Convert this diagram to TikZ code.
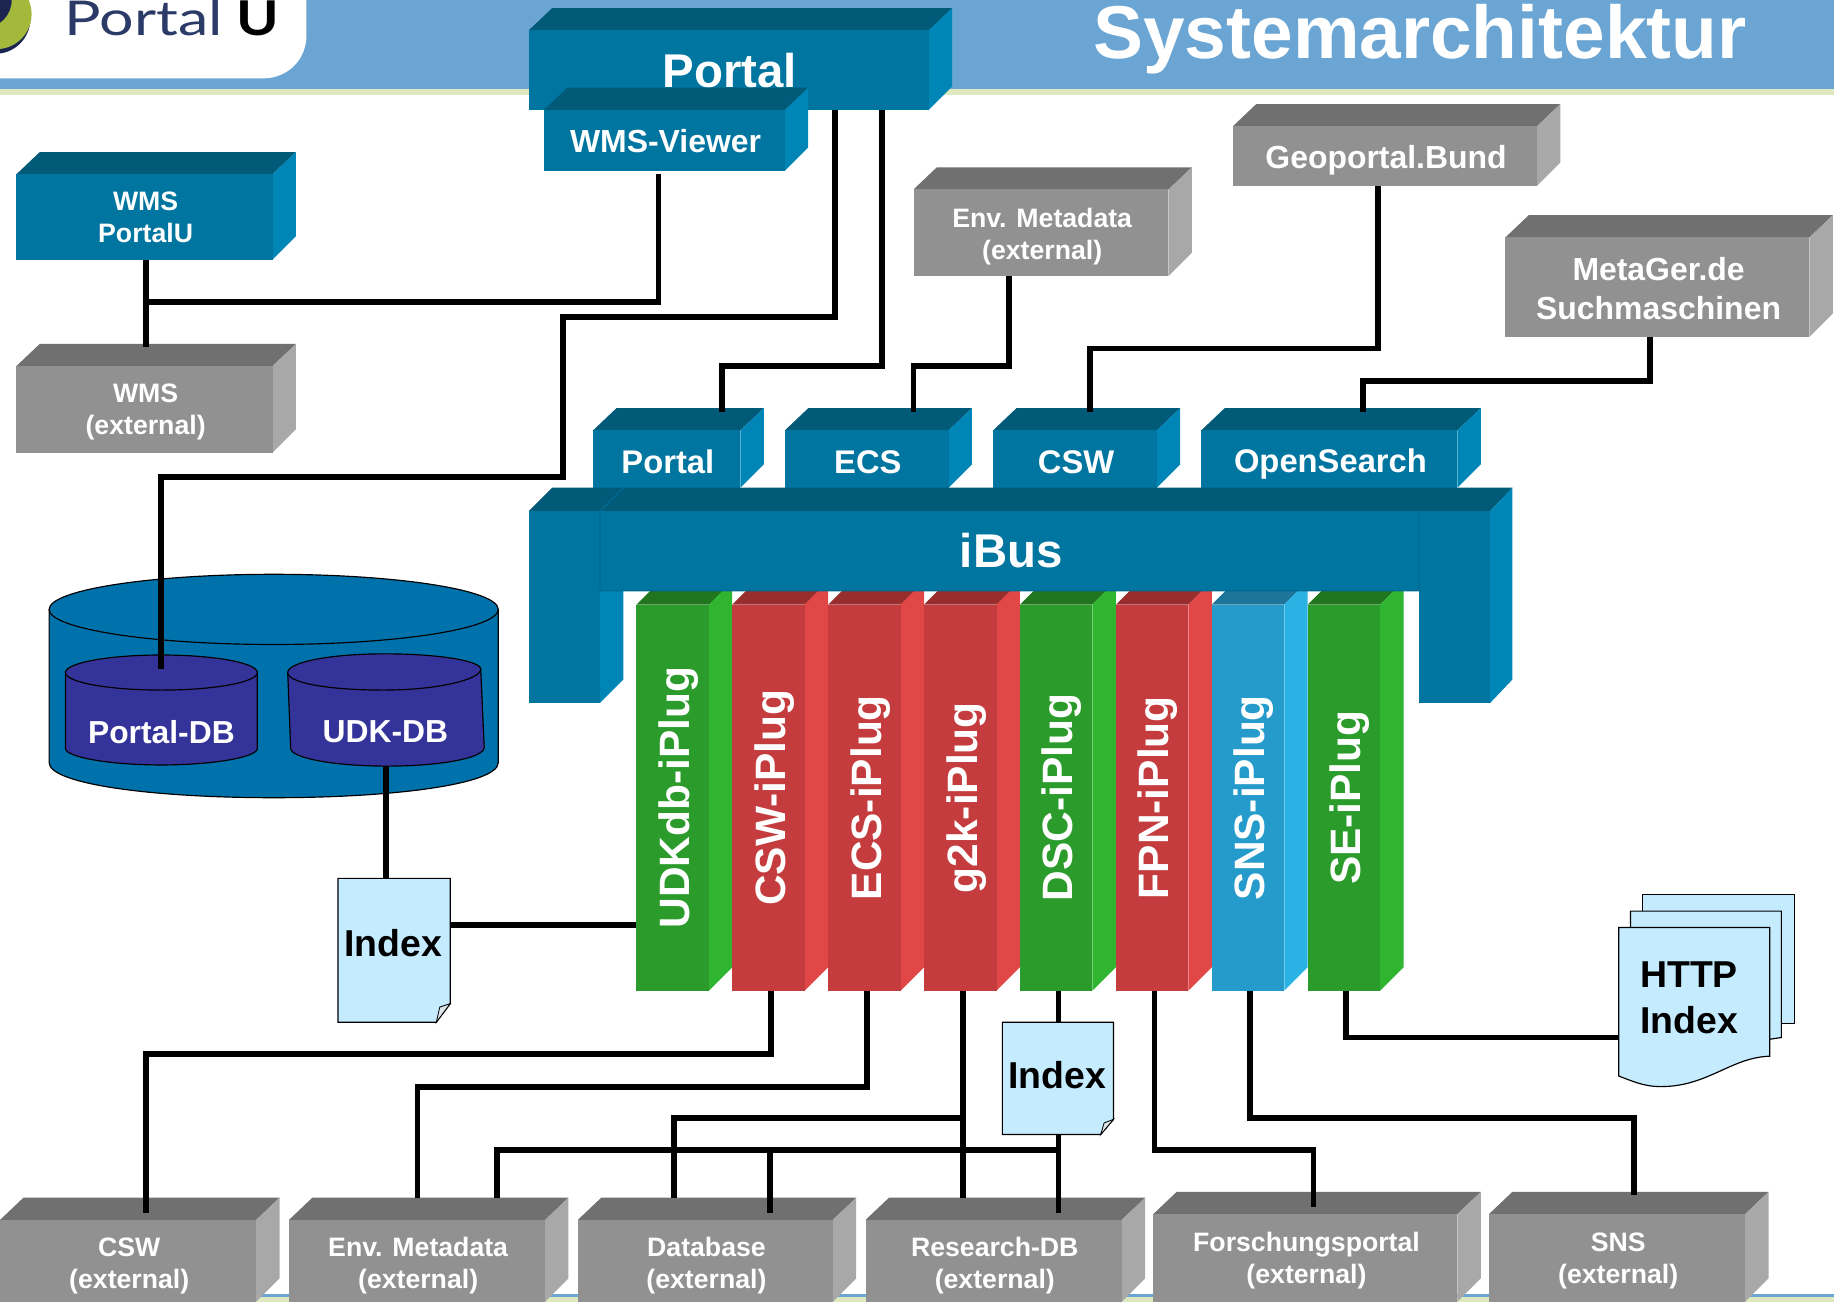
\documentclass[tikz,border=0pt]{standalone}
\usepackage{fontspec}
\setmainfont{Liberation Sans}
\newfontfamily\logofont{Lato}
\usetikzlibrary{calc}
\definecolor{bandblue}{HTML}{6AA5D3}
\definecolor{bandgreen}{HTML}{DDE8BF}
\definecolor{tealF}{HTML}{00759F}
\definecolor{tealT}{HTML}{005A78}
\definecolor{tealS}{HTML}{0086B6}
\definecolor{tealE}{HTML}{006C95}
\definecolor{greyF}{HTML}{919191}
\definecolor{greyT}{HTML}{707070}
\definecolor{greyS}{HTML}{A8A8A8}
\definecolor{greenF}{HTML}{2B9C2B}
\definecolor{greenT}{HTML}{21751F}
\definecolor{greenS}{HTML}{2FB52F}
\definecolor{redF}{HTML}{C43C3E}
\definecolor{redT}{HTML}{982D2E}
\definecolor{redS}{HTML}{E24747}
\definecolor{blueF}{HTML}{259BCB}
\definecolor{blueT}{HTML}{1D759A}
\definecolor{blueS}{HTML}{2BB2E5}
\definecolor{cylblue}{HTML}{0072AB}
\definecolor{dbblue}{HTML}{333399}
\definecolor{docblue}{HTML}{C5EBFF}
\definecolor{foldblue}{HTML}{DCE6EA}
\definecolor{logotext}{HTML}{2B3A67}
\definecolor{logogreen}{HTML}{A4B83C}
\definecolor{logodark}{HTML}{1C2450}
\tikzset{
  wire/.style={line width=5pt,black,line join=miter,line cap=butt},
  facebox/.style={rectangle,inner sep=0pt,outer sep=0pt},
  facetext/.style={inner sep=0pt,outer sep=0pt,text=white,align=center},
  docshape/.style={fill=docblue,draw=black,line width=1pt},
  cyl/.style={draw=black,line width=1pt,line join=round},
  doctext/.style={rectangle,inner sep=0pt,outer sep=0pt,text=black,align=center},
  dbtext/.style={inner sep=0pt,outer sep=0pt,text=white,font=\bfseries\fontsize{27.2}{32}\selectfont},
}
% name, x1, y1, x2, y2, palette, font, text, label offset
\newcommand{\cuboid}[9]{%
  \fill[#6T] (#2,#3) -- ({#2+20},{#3-19}) -- ({#4+20},{#3-19}) -- (#4,#3) -- cycle;
  \fill[#6S] (#4,#3) -- ({#4+20},{#3-19}) -- ({#4+20},{#5-20}) -- (#4,#5) -- cycle;
  \node[facebox,fill=#6F,minimum width={(#4-#2)*1pt},minimum height={(#5-#3)*1pt}] (#1) at ({(#2+#4)/2},{(#3+#5)/2}) {};
  \node[facetext,font=\bfseries#7] (#1-label) at ({(#2+#4)/2+1},{(#3+#5)/2+#9}) {#8};
  \coordinate (#1-back) at (#2,{#3-19});
  \coordinate (#1-top) at (#2,{#3-16});
  \coordinate (#1-mid) at (#2,{#3-6});
}
% name, left x, palette, text
\newcommand{\iplug}[4]{%
  \fill[#3T] (#2,517) -- ({#2+20},497) -- ({#2+82},497) -- ({#2+62},517) -- cycle;
  \fill[#3S] ({#2+62},517) -- ({#2+82},497) -- ({#2+82},827) -- ({#2+62},847) -- cycle;
  \node[facebox,fill=#3F,minimum width=62pt,minimum height=330pt] (#1) at ({#2+31},682) {};
  \node[text=white,font=\bfseries\fontsize{36.3}{42}\selectfont,rotate=90,inner sep=0pt] (#1-label) at ({#2+36},682) {#4};
}
\newcommand{\fsHuge}{\fontsize{40.5}{46}\selectfont}
\newcommand{\fsBig}{\fontsize{28}{33}\selectfont}
\newcommand{\fsMed}{\fontsize{27.3}{33}\selectfont}
\newcommand{\fsSm}{\fontsize{22.8}{27.5}\selectfont}
\begin{document}
\begin{tikzpicture}[x=1pt,y=-1pt]
\useasboundingbox (0,0) rectangle (1568,1113);
\clip (0,0) rectangle (1568,1113);
% header
\fill[bandblue] (0,0) rectangle (1568,76);
\fill[bandgreen] (0,76) rectangle (1568,81);
\fill[white] (0,0) -- (262,0) -- (262,30) .. controls (262,52) and (245,67) .. (225,67) -- (0,67) -- cycle;
\fill[bandblue] (0,1106) rectangle (1568,1109);
\fill[bandgreen] (0,1109) rectangle (1568,1113);
% logo
\fill[logodark] (-4,16) circle (30);
\fill[logogreen] (-3,12) circle (30);
\fill[logodark] (-14,0) circle (24);
\node[inner sep=0pt,anchor=base west,text=logotext,xscale=1.27,font=\logofont\fontsize{41}{48}\selectfont] (logoa) at (55,30) {Portal};
\node[inner sep=0pt,anchor=base west,text=black,xscale=1.2,font=\logofont\bfseries\fontsize{41}{48}\selectfont] (logob) at (202,30) {U};
% title
\node[inner sep=0pt,anchor=base,text=white,font=\bfseries\fontsize{64}{70}\selectfont] (title) at (1214,50) {Systemarchitektur};
% boxes top
\cuboid{portal}{452}{26}{794}{94}{teal}{\fsHuge}{Portal}{0}
\cuboid{viewer}{465}{94}{671}{146}{teal}{\fsMed}{WMS-Viewer}{0.5}
\cuboid{wmsp}{14}{149}{233}{222}{teal}{\fsSm}{WMS\\PortalU}{0.5}
\cuboid{wmsx}{14}{313}{233}{387}{grey}{\fsSm}{WMS\\(external)}{2.5}
\cuboid{envtop}{781}{162}{999}{236}{grey}{\fsSm}{Env. Metadata\\(external)}{3}
\cuboid{geo}{1054}{108}{1314}{159}{grey}{\fsMed}{Geoportal.Bund}{3.5}
\cuboid{meta}{1287}{203}{1547}{288}{grey}{\fsMed}{MetaGer.de\\Suchmaschinen}{1}
% iBus interfaces
\cuboid{sportal}{507}{368}{633}{417}{teal}{\fsBig}{Portal}{2.5}
\cuboid{secs}{671}{368}{811}{417}{teal}{\fsBig}{ECS}{2.5}
\cuboid{scsw}{849}{368}{989}{417}{teal}{\fsBig}{CSW}{2.5}
\cuboid{sopen}{1027}{368}{1246}{417}{teal}{\fsBig}{OpenSearch}{4.5}
% iPlugs
\iplug{pudk}{544}{green}{UDKdb-iPlug}
\iplug{pcsw}{626}{red}{CSW-iPlug}
\iplug{pecs}{708}{red}{ECS-iPlug}
\iplug{pgk}{790}{red}{g2k-iPlug}
\iplug{pdsc}{872}{green}{DSC-iPlug}
\iplug{pfpn}{954}{red}{FPN-iPlug}
\iplug{psns}{1036}{blue}{SNS-iPlug}
\iplug{pse}{1118}{green}{SE-iPlug}
% iBus
\fill[tealT] (452,437) -- (472,417) -- (1293,417) -- (1274,437) -- cycle;
\fill[tealS] (513,505) -- (533,505) -- (533,581) -- (513,601) -- cycle;
\fill[tealS] (1274,437) -- (1293,417) -- (1293,581) -- (1274,601) -- cycle;
\fill[tealF] (452,437) rectangle (513,601);
\fill[tealF] (1213,437) rectangle (1274,601);
\node[facebox,fill=tealF,minimum width=700pt,minimum height=68pt] (ibus) at (863,471) {};
\node[facetext,font=\bfseries\fontsize{40.5}{46}\selectfont] (ibuslabel) at (864.5,471) {iBus};
\draw[tealE,line width=1pt] (533,417) -- (513,437) -- (513,505) -- (1213,505) -- (1213,437);
% large database
\path[cyl,fill=cylblue] (42,521) -- (42,652) .. controls (42,670) and (128,682) .. (234,682) .. controls (340,682) and (426,670) .. (426,652) -- (426,521) -- cycle;
\draw[cyl,fill=cylblue] (234,521) ellipse (192 and 30);
% Portal-DB
\path[cyl,fill=dbblue] (56,574) -- (56,640) .. controls (56,647) and (92,654) .. (138,654) .. controls (184,654) and (220,647) .. (220,640) -- (220,574) -- cycle;
\draw[cyl,fill=dbblue] (138,575) ellipse (82 and 15);
\node[dbtext] (portaldb) at (138,626) {Portal-DB};
\coordinate (portaldb-in) at (138,572);
% UDK-DB
\path[cyl,fill=dbblue] (246,575) -- (248.5,640) .. controls (249,648) and (285,655) .. (331,655) .. controls (377,655) and (414,648) .. (414,639) -- (411,572) -- cycle;
\draw[cyl,fill=dbblue] (246,575) .. controls (246,566) and (283,559) .. (329,559) .. controls (375,559) and (411,565) .. (411,572) .. controls (411,581) and (374,590) .. (328,590) .. controls (282,590) and (246,584) .. (246,575) -- cycle;
\node[dbtext] (udkdb) at (329.5,626) {UDK-DB};
\coordinate (udkdb-out) at (330,655);
% documents
\path[docshape] (289,751) -- (385,751) -- (385,858) -- (373,874) -- (289,874) -- cycle;
\path[fill=foldblue,draw=black,line width=.7pt] (385,858) -- (373,874) -- (376,861) -- cycle;
\node[doctext,minimum width=96pt,minimum height=123pt] (index) at (337,812.5) {};
\node[doctext,font=\bfseries\fontsize{32}{38}\selectfont] (indexlabel) at (336,806) {Index};
\path[docshape] (857,874) -- (952,874) -- (952,957) -- (941,970) -- (857,970) -- cycle;
\path[fill=foldblue,draw=black,line width=.7pt] (952,957) -- (941,970) -- (944,960) -- cycle;
\node[doctext,minimum width=95pt,minimum height=96pt] (indexb) at (904.5,922) {};
\node[doctext,font=\bfseries\fontsize{32}{38}\selectfont] (indexblabel) at (904,919) {Index};
\path[docshape] (1404,765) -- (1534,765) -- (1534,875) -- (1520,875) -- (1404,875) -- cycle;
\path[docshape] (1394,779) -- (1523,779) -- (1523,887) -- (1510,889) -- (1394,889) -- cycle;
\path[docshape] (1384,793) -- (1513,793) -- (1513,903) .. controls (1480,904) and (1460,929) .. (1420,929) .. controls (1405,929) and (1395,924) .. (1384,920) -- cycle;
\node[doctext,minimum width=129pt,minimum height=127pt] (http) at (1448.5,856.5) {};
\node[doctext,font=\bfseries\fontsize{32}{39}\selectfont] (httplabel) at (1444,853) {HTTP\\Index};
% bottom boxes
\cuboid{xcsw}{0}{1043}{219}{1113}{grey}{\fsSm}{CSW\\(external)}{4}
\cuboid{xenv}{247}{1043}{466}{1113}{grey}{\fsSm}{Env. Metadata\\(external)}{4}
\cuboid{xdb}{494}{1043}{712}{1113}{grey}{\fsSm}{Database\\(external)}{4}
\cuboid{xres}{740}{1043}{959}{1113}{grey}{\fsSm}{Research-DB\\(external)}{4}
\cuboid{xfor}{986}{1038}{1246}{1113}{grey}{\fsSm}{Forschungsportal\\(external)}{2.5}
\cuboid{xsns}{1273}{1038}{1492}{1113}{grey}{\fsSm}{SNS\\(external)}{2.5}
% connectors
\coordinate (viewer-gap) at (563,149);
\draw[wire] (viewer-gap) -- (563,258) -- (125,258);
\draw[wire] (125,0 |- wmsp.south) -- (125,0 |- wmsx-top);
\draw[wire] (714,0 |- portal.south) -- (714,271) -- (481,271) -- (481,408) -- (138,408) -- (portaldb-in);
\draw[wire] (754,0 |- portal.south) -- (754,313) -- (617,313) -- (617,0 |- sportal-top);
\draw[wire] (863,0 |- envtop.south) -- (863,313) -- (781,313) -- (781,0 |- secs-top);
\draw[wire] (1178,0 |- geo.south) -- (1178,298) -- (932,298) -- (932,0 |- scsw-top);
\draw[wire] (1411,0 |- meta.south) -- (1411,326) -- (1165,326) -- (1165,0 |- sopen-top);
\draw[wire] (udkdb-out) -- (330,0 |- index.north);
\draw[wire] (index.east |- 0,791) -- (pudk.west |- 0,791);
\draw[wire] (659,0 |- pcsw.south) -- (659,901) -- (125,901) -- (125,0 |- xcsw-mid);
\draw[wire] (741,0 |- pecs.south) -- (741,929) -- (357,929) -- (357,0 |- xenv-back);
\draw[wire] (823,0 |- pgk.south) -- (823,0 |- xres-back);
\draw[wire] (823,956) -- (576,956) -- (576,0 |- xdb-back);
\draw[wire] (905,0 |- pdsc.south) -- (905,0 |- indexb.north);
\draw[wire] (905,0 |- indexb.south) -- (905,0 |- xres-mid);
\draw[wire] (905,983) -- (425,983) -- (425,0 |- xenv-back);
\draw[wire] (658,983) -- (658,0 |- xdb-mid);
\draw[wire] (987,0 |- pfpn.south) -- (987,983) -- (1123,983) -- (1123,0 |- xfor-mid);
\draw[wire] (1069,0 |- psns.south) -- (1069,956) -- (1397,956) -- (1397,0 |- xsns-top);
\draw[wire] (1151,0 |- pse.south) -- (1151,887) -- (http.west |- 0,887);
\end{tikzpicture}
\end{document}
